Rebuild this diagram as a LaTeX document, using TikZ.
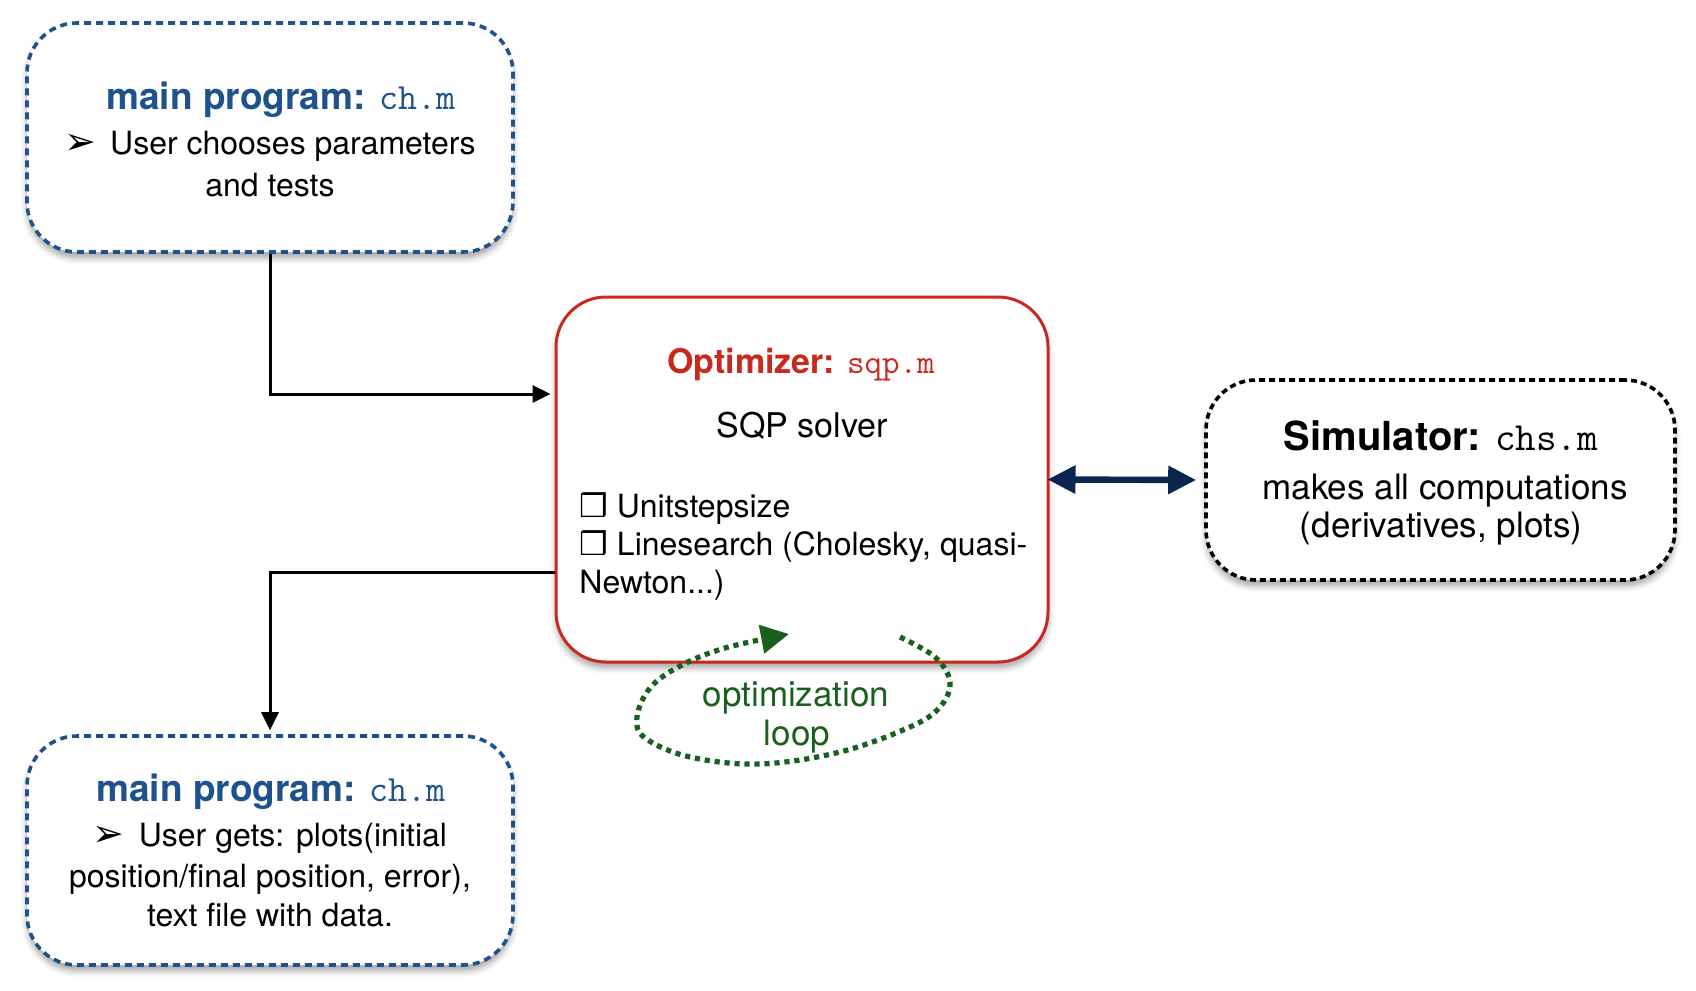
\documentclass[tikz,border=0pt]{standalone}
\usepackage{fontspec}
\setmainfont{TeX Gyre Heros}
\newfontfamily\dejavu{DejaVu Sans}
\usetikzlibrary{arrows.meta,shadows.blur}
\definecolor{mainblue}{RGB}{30,82,140}
\definecolor{optred}{RGB}{200,40,30}
\definecolor{loopgreen}{RGB}{25,95,30}
\definecolor{navyblue}{RGB}{10,38,80}
\tikzset{
  boxshadow/.style={blur shadow={shadow xshift=0pt,shadow yshift=-3pt,shadow blur radius=3pt,shadow opacity=35}},
  mainbox/.style={draw=mainblue, line width=1.8pt, dash pattern=on 3.5pt off 2.5pt,
    rounded corners=25pt, fill=white, minimum width=243pt, minimum height=114.5pt, inner sep=0pt, boxshadow},
  optbox/.style={draw=optred, line width=1.5pt, rounded corners=25pt, fill=white,
    minimum width=246pt, minimum height=182.5pt, inner sep=0pt, boxshadow},
  simbox/.style={draw=black, line width=1.8pt, dash pattern=on 3pt off 2pt,
    rounded corners=25pt, fill=white, minimum width=234.5pt, minimum height=100pt, inner sep=0pt, boxshadow},
  txt/.style={anchor=base, inner sep=0pt},
  maintitle/.style={txt, text=mainblue, font=\fontsize{18.5pt}{22pt}\selectfont},
  mainbody/.style={txt, font=\fontsize{16pt}{19pt}\selectfont},
  conn/.style={draw=black, line width=1.5pt, -{Triangle[length=9pt,width=8.5pt]}, shorten >=2pt},
  dbl/.style={draw=navyblue, line width=3.2pt, {Triangle[length=14pt,width=13.5pt]}-{Triangle[length=14pt,width=13.5pt]}, shorten <=-1pt, shorten >=4pt},
  loopline/.style={draw=loopgreen, line width=2.6pt, dash pattern=on 2.6pt off 2.4pt, -{Triangle[length=14pt,width=14pt,fill=loopgreen]}}
}
\begin{document}
\begin{tikzpicture}[x=0.5pt,y=-0.5pt]
\useasboundingbox (0,0) rectangle (1696,990);

% boxes
\node[mainbox] (top) at (270,137.5) {};
\node[mainbox] (bot) at (270,850.5) {};
\node[optbox]  (mid) at (802,479.5) {};
\node[simbox]  (sim) at (1440.5,480) {};

% top box text
\node[maintitle] (toptitle) at (281,110) {\textbf{main program:} {\ttfamily ch.m}};
\node[mainbody] (topl1) at (270,155) {{\dejavu\fontsize{19pt}{19pt}\selectfont ➢}\hspace{7pt}User chooses parameters};
\node[mainbody] (topl2) at (270,196) {and tests};

% bottom box text
\node[maintitle] (bottitle) at (271,801) {\textbf{main program:} {\ttfamily ch.m}};
\node[mainbody] (botl1) at (270,846) {{\dejavu\fontsize{19pt}{19pt}\selectfont ➢}\hspace{7pt}User gets: plots(initial};
\node[mainbody] (botl2) at (270,887) {position/final position, error),};
\node[mainbody] (botl3) at (270,926) {text file with data.};

% optimizer text
\node[txt, text=optred, font=\fontsize{17pt}{20pt}\selectfont] (opttitle) at (801,373) {\textbf{Optimizer:} {\ttfamily sqp.m}};
\node[txt, font=\fontsize{17pt}{20pt}\selectfont] (sqp) at (802,437) {SQP solver};
\node[txt, anchor=base west, font=\fontsize{16pt}{19pt}\selectfont] (opt1) at (579,517) {{\dejavu ❒} Unitstepsize};
\node[txt, anchor=base west, font=\fontsize{16pt}{19pt}\selectfont] (opt2) at (579,555) {{\dejavu ❒} Linesearch (Cholesky, quasi-};
\node[txt, anchor=base west, font=\fontsize{16pt}{19pt}\selectfont] (opt3) at (579,593) {Newton...)};

% simulator text
\node[txt, font=\fontsize{20pt}{24pt}\selectfont] (simtitle) at (1441,450) {\textbf{Simulator:} {\ttfamily chs.m}};
\node[txt, font=\fontsize{17.5pt}{21pt}\selectfont] (sim1) at (1445,499) {makes all computations};
\node[txt, font=\fontsize{17.5pt}{21pt}\selectfont] (sim2) at (1441,537) {(derivatives, plots)};

% connectors
\draw[conn] (top.south) |- ([yshift=42.75pt]mid.west);
\draw[conn] ([yshift=-46.25pt]mid.west) -| (bot.north);
\draw[dbl] (mid.east) -- (sim.west);

% optimization loop
\coordinate (loopstart) at (900,637);
\coordinate (loopend) at (789,634);
\draw[loopline] plot[smooth, tension=0.6] coordinates {(loopstart) (935,657) (950,682) (940,707) (910,727) (840,752) (760,764) (690,757) (645,738) (637,717) (650,688) (680,666) (725,648) (loopend)};
\node[txt, text=loopgreen, font=\fontsize{17.5pt}{21pt}\selectfont] (looptxt1) at (796,706) {optimization};
\node[txt, text=loopgreen, font=\fontsize{17.5pt}{21pt}\selectfont] (looptxt2) at (797,745) {loop};
\end{tikzpicture}
\end{document}
